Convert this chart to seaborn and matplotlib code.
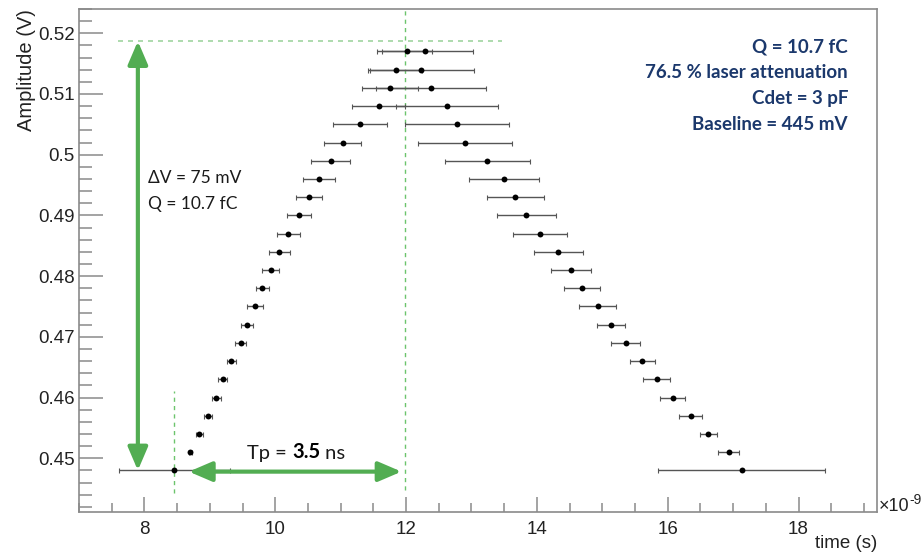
import numpy as np
import pandas as pd
import matplotlib
matplotlib.use('Agg')
import matplotlib.pyplot as plt
import seaborn as sns
from matplotlib.ticker import MultipleLocator, FuncFormatter

# amplitude levels (V), bottom to top
amp = [0.448, 0.451, 0.454, 0.457, 0.460, 0.463, 0.466, 0.469, 0.472, 0.475,
       0.478, 0.481, 0.484, 0.487, 0.490, 0.493, 0.496, 0.499, 0.502, 0.505,
       0.508, 0.511, 0.514, 0.517]

# rising edge: time (ns) and error (ns)
t_rise = [8.46, 8.70, 8.84, 8.97, 9.10, 9.20, 9.33, 9.47, 9.57, 9.69,
          9.80, 9.93, 10.06, 10.20, 10.36, 10.52, 10.67, 10.85, 11.03, 11.30,
          11.58, 11.76, 11.85, 12.01]
e_rise = [0.85, 0.02, 0.05, 0.06, 0.07, 0.07, 0.07, 0.09, 0.09, 0.12,
          0.10, 0.13, 0.16, 0.18, 0.18, 0.20, 0.24, 0.30, 0.28, 0.41,
          0.40, 0.43, 0.40, 0.38]

# falling edge
t_fall = [17.13, 16.93, 16.62, 16.35, 16.08, 15.83, 15.61, 15.36, 15.13, 14.93,
          14.69, 14.52, 14.33, 14.05, 13.84, 13.67, 13.50, 13.24, 12.90, 12.78,
          12.62, 12.38, 12.23, 12.29]
e_fall = [1.28, 0.16, 0.13, 0.17, 0.19, 0.21, 0.19, 0.22, 0.21, 0.28,
          0.27, 0.31, 0.38, 0.41, 0.45, 0.44, 0.54, 0.65, 0.72, 0.79,
          0.78, 0.84, 0.81, 0.74]

info_lines = ['Q = 10.7 fC', '76.5 % laser attenuation', 'Cdet = 3 pF', 'Baseline = 445 mV']

df = pd.DataFrame({'time': t_rise + t_fall, 'amp': amp + amp, 'err': e_rise + e_fall})

sns.set_style('ticks')
plt.rcParams['font.family'] = ['Liberation Sans', 'DejaVu Sans']

green = '#52ad52'
navy = '#1b386c'
frame = '#8a8a8a'
txt = '#222222'

fig = plt.figure(figsize=(9.21, 5.56), dpi=100)
ax = fig.add_axes([79/921, 1 - 512.3/556, (877 - 79)/921, (512.3 - 9)/556])

ax.errorbar(df.time, df.amp, xerr=df.err, fmt='none', ecolor='#555555',
            elinewidth=1.0, capsize=1.8, capthick=0.8, zorder=2)
sns.scatterplot(data=df, x='time', y='amp', color='black', s=18, linewidth=0,
                ax=ax, zorder=3)

ax.set_xlim(7.0, 19.2)
ax.set_ylim(0.4411, 0.524)

# reference lines
ax.plot([7.59, 13.46], [0.5187, 0.5187], ls=(0, (3, 3)), color='#9fd49f', lw=1.2, zorder=1)
ax.plot([11.99, 11.99], [0.4448, 0.524], ls=(0, (3, 3)), color='#6cc46c', lw=1.0, zorder=1)
ax.plot([8.457, 8.457], [0.4442, 0.4611], ls=(0, (3, 3)), color='#6cc46c', lw=1.0, zorder=1)

# arrows
arr = dict(arrowstyle='<|-|>,head_length=0.7,head_width=0.3', color=green, lw=3,
           shrinkA=0, shrinkB=0, mutation_scale=20)
ax.annotate('', xy=(7.9, 0.5187), xytext=(7.9, 0.4480), arrowprops=arr, zorder=4)
ax.annotate('', xy=(8.68, 0.4478), xytext=(11.93, 0.4478), arrowprops=arr, zorder=4)

# texts
ax.text(148, 556 - 178, 'ΔV = 75 mV', transform=None, fontsize=12.5, family='Lato',
        color='#1a1a1a', va='center', ha='left')
ax.text(148, 556 - 204, 'Q = 10.7 fC', transform=None, fontsize=12.5, family='Lato',
        color='#1a1a1a', va='center', ha='left')

t1 = ax.text(247, 556 - 462, 'Tp = ', transform=None, fontsize=14.5, family='Lato',
             color='#1a1a1a', va='bottom', ha='left')
t2 = ax.annotate('3.5', xy=(1, 0), xycoords=t1, fontsize=14.5, family='Lato',
                 weight='bold', color='black', va='bottom', ha='left')
ax.annotate(' ns', xy=(1, 0), xycoords=t2, fontsize=14.5, family='Lato',
            color='#1a1a1a', va='bottom', ha='left')

for i, line in enumerate(info_lines):
    ax.text(848, 556 - (46.7 + 25.8 * i), line, transform=None, fontsize=13.5,
            family='Lato', weight='bold', color=navy, ha='right', va='center')

# axes styling (ROOT-like)
for s in ax.spines.values():
    s.set_color(frame)
    s.set_linewidth(1.2)
ax.xaxis.set_major_locator(MultipleLocator(2))
ax.xaxis.set_minor_locator(MultipleLocator(0.5))
ax.yaxis.set_major_locator(MultipleLocator(0.01))
ax.yaxis.set_minor_locator(MultipleLocator(0.002))
ax.yaxis.set_major_formatter(FuncFormatter(lambda v, p: f'{v:g}'))
ax.xaxis.set_major_formatter(FuncFormatter(lambda v, p: f'{v:g}'))
ax.tick_params(axis='y', which='major', direction='in', length=17, width=1.1,
               color=frame, labelsize=13.5, labelcolor=txt, pad=3)
ax.tick_params(axis='y', which='minor', direction='in', length=9, width=1.1, color=frame)
ax.tick_params(axis='x', which='major', direction='in', length=11, width=1.1,
               color=frame, labelsize=13.5, labelcolor=txt, pad=6)
ax.tick_params(axis='x', which='minor', direction='in', length=6.5, width=1.1, color=frame)

ax.set_ylabel('Amplitude (V)', loc='top', fontsize=14.5, color=txt)
ax.yaxis.set_label_coords(-0.054, 1.0)
ax.set_xlabel('time (s)', loc='right', fontsize=13.5, color=txt)
ax.xaxis.set_label_coords(1.0, -0.045)

# x10^-9 exponent label
e1 = ax.text(878.5, 556 - 515, '×10', transform=None, fontsize=13, color=txt,
             ha='left', va='bottom')
ax.annotate('-9', xy=(1, 0.45), xycoords=e1, fontsize=10, color=txt,
            ha='left', va='bottom')

fig.savefig('out.png', dpi=100)
